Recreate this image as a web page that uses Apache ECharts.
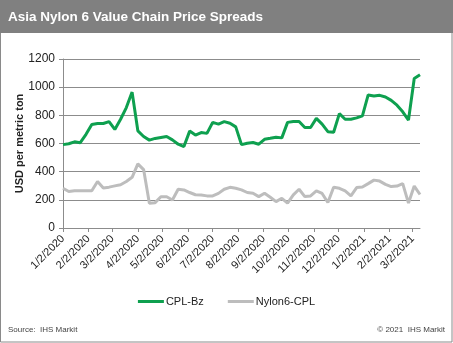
<!DOCTYPE html>
<html>
<head>
<meta charset="utf-8">
<script src="https://cdn.jsdelivr.net/npm/echarts@6/dist/echarts.min.js"></script>
<style>
html,body{margin:0;padding:0;background:#fff;}
#chart{width:453px;height:343px;}
</style>
</head>
<body>
<div id="chart"></div>
<script>
const titleText = 'Asia Nylon 6 Value Chain Price Spreads';
const yAxisName = 'USD per metric ton';
const sourceText = 'Source:  IHS Markit';
const copyrightText = '\u00a9 2021  IHS Markit';
const seriesNames = ['CPL-Bz', 'Nylon6-CPL'];

const dates = [
 '2020-01-02','2020-01-09','2020-01-16','2020-01-23','2020-01-30','2020-02-06','2020-02-13','2020-02-20','2020-02-27',
 '2020-03-05','2020-03-12','2020-03-19','2020-03-26','2020-04-02','2020-04-09','2020-04-16','2020-04-23','2020-04-30',
 '2020-05-07','2020-05-14','2020-05-21','2020-05-28','2020-06-04','2020-06-11','2020-06-18','2020-06-25','2020-07-02',
 '2020-07-09','2020-07-16','2020-07-23','2020-07-30','2020-08-06','2020-08-13','2020-08-20','2020-08-27','2020-09-03',
 '2020-09-10','2020-09-17','2020-09-24','2020-10-01','2020-10-08','2020-10-15','2020-10-22','2020-10-29','2020-11-05',
 '2020-11-12','2020-11-19','2020-11-26','2020-12-03','2020-12-10','2020-12-17','2020-12-24','2020-12-31','2021-01-07',
 '2021-01-14','2021-01-21','2021-01-28','2021-02-04','2021-02-11','2021-02-18','2021-02-25','2021-03-04','2021-03-11'
];

const cplBz = [
 592,598,612,606,665,735,742,742,755,700,772,855,965,690,650,624,636,643,
 650,626,595,578,688,660,678,672,750,738,755,744,718,592,602,607,
 595,630,637,645,640,750,756,756,714,714,778,738,684,680,812,772,
 772,782,796,945,937,942,930,906,872,825,766,1062,1088
];

const nylon6Cpl = [
 282,259,265,264,264,264,330,284,290,299,307,330,360,455,415,176,180,222,
 222,199,275,270,252,236,234,228,228,246,275,289,282,271,252,247,
 223,247,218,187,211,176,235,275,223,228,263,245,181,290,282,263,
 228,287,291,315,340,333,310,294,298,315,177,298,238
];

const tickLabels = ['1/2/2020','2/2/2020','3/2/2020','4/2/2020','5/2/2020','6/2/2020','7/2/2020','8/2/2020',
 '9/2/2020','10/2/2020','11/2/2020','12/2/2020','1/2/2021','2/2/2021','3/2/2021'];

function isoToTs(s){ const p = s.split('-').map(Number); return Date.UTC(p[0], p[1]-1, p[2]); }
function mdyToTs(s){ const p = s.split('/').map(Number); return Date.UTC(p[2], p[0]-1, p[1]); }
const DAY = 86400000;
const t0 = isoToTs(dates[0]);
const xDays = dates.map(d => (isoToTs(d) - t0) / DAY);
const tickDays = tickLabels.map(l => (mdyToTs(l) - t0) / DAY);
const labelByDay = {};
tickDays.forEach((d, i) => { labelByDay[d] = tickLabels[i]; });

const chart = echarts.init(document.getElementById('chart'), null, {renderer: 'canvas'});
const font = 'Arial, "Liberation Sans", sans-serif';

chart.setOption({
  backgroundColor: '#ffffff',
  animation: false,
  graphic: [
    {type: 'rect', shape: {x: 0.5, y: 0.5, width: 451.5, height: 341.5}, style: {fill: '#fff', stroke: '#8a8a8a', lineWidth: 1}, z: -10},
    {type: 'rect', shape: {x: 0, y: 0, width: 453, height: 33}, style: {fill: '#808080'}, z: -5},
    {type: 'text', left: 8, top: 10, style: {text: titleText, fill: '#ffffff', font: 'bold 13.5px ' + font}},
    {type: 'text', left: 8, top: 326, style: {text: sourceText, fill: '#444', font: '8px ' + font}},
    {type: 'text', right: 8, top: 326, style: {text: copyrightText, fill: '#444', font: '8px ' + font, align: 'right'}}
  ],
  grid: {left: 63, right: 33, top: 59, bottom: 115, containLabel: false},
  legend: {
    bottom: 31, left: 'center',
    itemWidth: 26, itemHeight: 3, itemGap: 24,
    icon: 'rect',
    textStyle: {fontFamily: font, fontSize: 11, color: '#222', padding: [0, 0, 0, -3]},
    data: seriesNames
  },
  xAxis: {
    type: 'value',
    min: 0,
    max: xDays[xDays.length - 1],
    axisLine: {show: true, lineStyle: {color: '#8c8c8c', width: 1}},
    axisTick: {show: true, length: 4, lineStyle: {color: '#8c8c8c'}, customValues: tickDays},
    axisLabel: {
      customValues: tickDays,
      rotate: 45,
      fontFamily: font, fontSize: 11, color: '#222', margin: 9,
      formatter: v => labelByDay[v] || ''
    },
    splitLine: {show: false}
  },
  yAxis: {
    type: 'value',
    min: 0, max: 1200, interval: 200,
    name: yAxisName,
    nameLocation: 'middle',
    nameGap: 38,
    nameMoveOverlap: false,
    nameTextStyle: {fontFamily: font, fontSize: 11, fontWeight: 'bold', color: '#222'},
    axisLine: {show: true, lineStyle: {color: '#8c8c8c', width: 1}},
    axisTick: {show: true, length: 4, lineStyle: {color: '#8c8c8c'}},
    axisLabel: {fontFamily: font, fontSize: 12, color: '#222', margin: 8, formatter: v => String(v)},
    splitLine: {show: true, lineStyle: {color: '#8c8c8c', width: 1}}
  },
  series: [
    {
      name: seriesNames[0], type: 'line', showSymbol: false, symbol: 'none',
      data: xDays.map((d, i) => [d, cplBz[i]]),
      lineStyle: {color: '#0ea04f', width: 3},
      itemStyle: {color: '#0ea04f'}, z: 3
    },
    {
      name: seriesNames[1], type: 'line', showSymbol: false, symbol: 'none',
      data: xDays.map((d, i) => [d, nylon6Cpl[i]]),
      lineStyle: {color: '#bdbdbd', width: 3},
      itemStyle: {color: '#bdbdbd'}, z: 2
    }
  ]
});
</script>
</body>
</html>
